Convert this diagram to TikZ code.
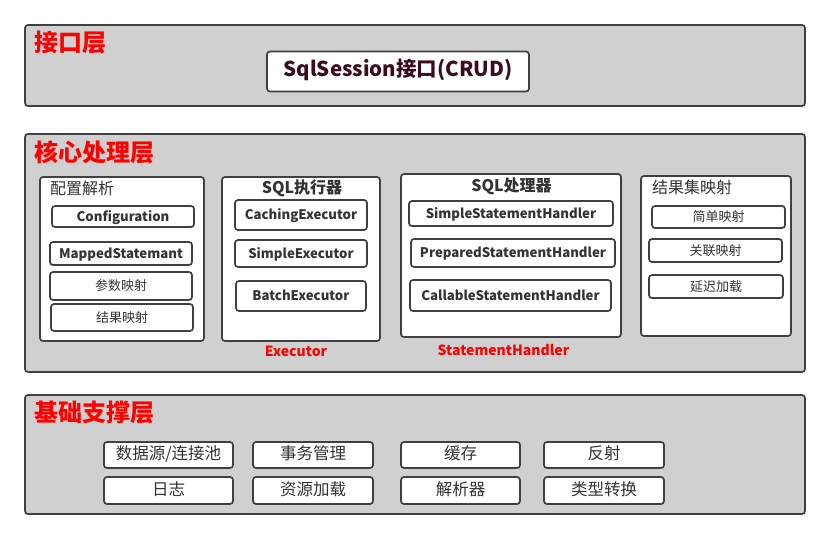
\documentclass[tikz,border=0pt]{standalone}
\usepackage{fontspec}
\setmainfont{Noto Sans CJK SC}
\definecolor{layerfill}{RGB}{208,208,208}
\definecolor{edgecol}{RGB}{64,64,64}
\definecolor{txtcol}{RGB}{51,51,51}
\definecolor{sqlcol}{RGB}{60,10,35}
\definecolor{redcol}{RGB}{255,0,0}
\begin{document}
\begin{tikzpicture}[x=1pt,y=-1pt,
  layer/.style={draw=edgecol,fill=layerfill,line width=1.7pt,rounded corners=3pt,inner sep=0pt},
  panel/.style={draw=edgecol,fill=white,line width=1.7pt,rounded corners=3pt,inner sep=0pt},
  anybox/.style={draw=edgecol,fill=white,line width=1.7pt,rounded corners=3pt,inner sep=0pt,text=txtcol,text height=0.98em,text depth=0pt},
  box/.style={anybox,font=\fontsize{13.2}{15}\selectfont\bfseries},
  cbox/.style={anybox,font=\fontsize{13}{15}\selectfont},
  bbox/.style={anybox,font=\fontsize{16.5}{18}\selectfont},
  ltitle/.style={anchor=west,inner sep=0pt,text=redcol,font=\fontsize{24}{26}\selectfont\bfseries},
  ptitle/.style={inner sep=0pt,text=txtcol,font=\fontsize{16}{18}\selectfont},
  ptitleb/.style={inner sep=0pt,text=txtcol,font=\fontsize{16}{18}\selectfont\bfseries},
  redlab/.style={inner sep=0pt,text=redcol,font=\fontsize{14}{16}\selectfont\bfseries}]
\useasboundingbox (0,0) rectangle (830,539);
% Interface layer
\node[layer,minimum width=780,minimum height=81] (L1) at (415,65.5) {};
\node[ltitle] (L1t) at (34,43) {接口层};
\node[anybox,text=sqlcol,font=\fontsize{20.5}{22}\selectfont\bfseries,minimum width=262,minimum height=40] (sql) at (398,71.5) {SqlSession接口(CRUD)};
% Core layer
\node[layer,minimum width=780,minimum height=238] (L2) at (415,253) {};
\node[ltitle] (L2t) at (34,152.5) {核心处理层};
% Panel A
\node[panel,minimum width=164,minimum height=164] (PA) at (122,259) {};
\node[ptitle,anchor=west] (PAt) at (50,188) {配置解析};
\node[box,minimum width=142,minimum height=21] (a1) at (123,216.5) {Configuration};
\node[box,minimum width=142,minimum height=23] (a2) at (121,253.5) {MappedStatemant};
\node[cbox,minimum width=142,minimum height=28] (a3) at (121,286) {参数映射};
\node[cbox,minimum width=142,minimum height=27] (a4) at (122,317.5) {结果映射};
% Panel B
\node[panel,minimum width=158,minimum height=164] (PB) at (301,259) {};
\node[ptitleb] (PBt) at (302,188) {SQL执行器};
\node[box,minimum width=132,minimum height=30] (b1) at (301,215) {CachingExecutor};
\node[box,minimum width=132,minimum height=27] (b2) at (301,253.5) {SimpleExecutor};
\node[box,minimum width=130,minimum height=30] (b3) at (301,296) {BatchExecutor};
\node[redlab] (bl) at (296,351.5) {Executor};
% Panel C
\node[panel,minimum width=220,minimum height=163] (PC) at (511,255.5) {};
\node[ptitleb] (PCt) at (511.5,186) {SQL处理器};
\node[box,minimum width=204,minimum height=25] (c1) at (511,213.5) {SimpleStatementHandler};
\node[box,minimum width=204,minimum height=28] (c2) at (513,253) {PreparedStatementHandler};
\node[box,minimum width=201,minimum height=31] (c3) at (510.5,295.5) {CallableStatementHandler};
\node[redlab] (cl) at (503.5,350) {StatementHandler};
% Panel D
\node[panel,minimum width=150,minimum height=160] (PD) at (716,256) {};
\node[ptitle,anchor=west] (PDt) at (652,187) {结果集映射};
\node[cbox,minimum width=133,minimum height=22] (d1) at (718.5,217) {简单映射};
\node[cbox,minimum width=133,minimum height=23] (d2) at (715.5,250.5) {关联映射};
\node[cbox,minimum width=134,minimum height=23] (d3) at (716,286.5) {延迟加载};
% Base layer
\node[layer,minimum width=780,minimum height=119] (L3) at (415,454.5) {};
\node[ltitle] (L3t) at (34,413) {基础支撑层};
\node[bbox,minimum width=129,minimum height=26] (e1) at (168.5,455) {数据源/连接池};
\node[bbox,minimum width=120,minimum height=26] (e2) at (313,455) {事务管理};
\node[bbox,minimum width=119,minimum height=26] (e3) at (460.5,455) {缓存};
\node[bbox,minimum width=120,minimum height=26] (e4) at (604,455) {反射};
\node[bbox,minimum width=129,minimum height=27] (f1) at (168.5,490.5) {日志};
\node[bbox,minimum width=120,minimum height=27] (f2) at (313,490.5) {资源加载};
\node[bbox,minimum width=119,minimum height=27] (f3) at (460.5,490.5) {解析器};
\node[bbox,minimum width=120,minimum height=27] (f4) at (604,490.5) {类型转换};
\end{tikzpicture}
\end{document}
